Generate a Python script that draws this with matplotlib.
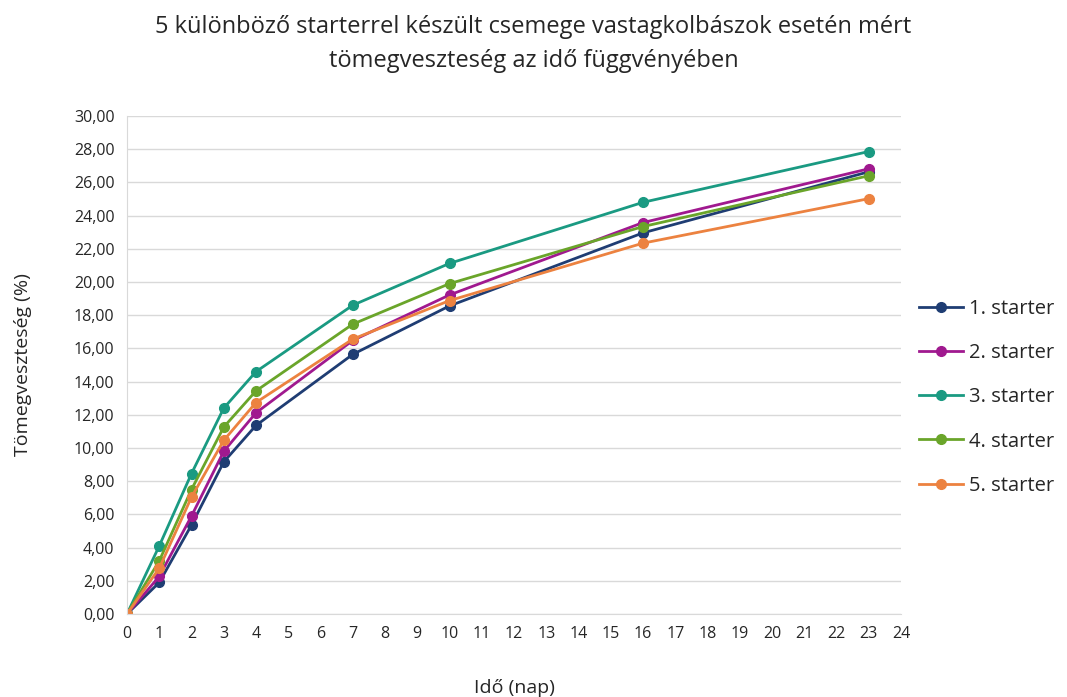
import numpy as np
from matplotlib import pyplot as plt
from matplotlib.ticker import FuncFormatter

plt.rcParams['font.family'] = ['Open Sans', 'DejaVu Sans']

days = [0, 1, 2, 3, 4, 7, 10, 16, 23]
starter_1 = [0.0, 1.90, 5.36, 9.16, 11.36, 15.64, 18.56, 22.96, 26.64]
starter_2 = [0.0, 2.26, 5.90, 9.80, 12.12, 16.48, 19.22, 23.58, 26.82]
starter_3 = [0.0, 4.10, 8.46, 12.40, 14.60, 18.60, 21.12, 24.80, 27.86]
starter_4 = [0.0, 3.20, 7.50, 11.26, 13.44, 17.46, 19.90, 23.34, 26.40]
starter_5 = [0.0, 2.76, 7.04, 10.46, 12.74, 16.56, 18.88, 22.34, 25.02]

series = [starter_1, starter_2, starter_3, starter_4, starter_5]
labels = ['1. starter', '2. starter', '3. starter', '4. starter', '5. starter']
colors = ['#1f3d73', '#a0198f', '#1a9a82', '#6aa52a', '#ec8240']

fig = plt.figure(figsize=(10.67, 6.97), dpi=100)
ax = fig.add_axes([127/1067, 1 - 614/697, (901-127)/1067, (614-116)/697])

for vals, lab, col in zip(series, labels, colors):
    ax.plot(days, vals, color=col, linewidth=2, marker='o', markersize=7, label=lab)

ax.set_xlim(0, 24)
ax.set_ylim(0, 30)
ax.set_xticks(range(0, 25))
ax.set_yticks(np.arange(0, 31, 2))
ax.yaxis.set_major_formatter(FuncFormatter(lambda v, p: '{:.2f}'.format(v).replace('.', ',')))
ax.tick_params(length=0, labelsize=11.5, colors='#262626', pad=9)
ax.grid(axis='y', color='#d9d9d9', linewidth=1)
ax.set_axisbelow(True)
for s in ['top', 'right']:
    ax.spines[s].set_visible(False)
for s in ['left', 'bottom']:
    ax.spines[s].set_color('#d9d9d9')

ax.set_xlabel('Idő (nap)', fontsize=14, color='#262626', labelpad=26)
ax.set_ylabel('Tömegveszteség (%)', fontsize=14, color='#262626', labelpad=30)
fig.suptitle('5 különböző starterrel készült csemege vastagkolbászok esetén mért\ntömegveszteség az idő függvényében',
             fontsize=17, color='#262626', y=0.978, x=0.5, linespacing=1.55)

ax.legend(loc='center left', bbox_to_anchor=(1.0, 0.435), frameon=False, fontsize=14.5,
          handlelength=2.2, handletextpad=0.3, labelspacing=1.2, labelcolor='#262626')

plt.savefig('out.png', dpi=100)
